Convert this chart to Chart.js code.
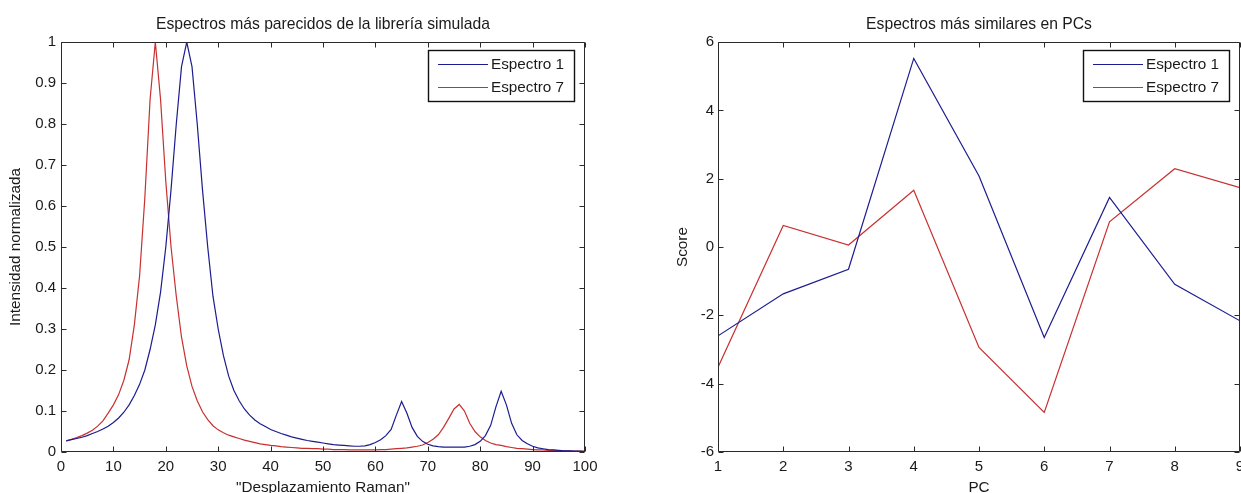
<!DOCTYPE html>
<html>
<head>
<meta charset="utf-8">
<script src="https://cdn.jsdelivr.net/npm/chart.js@4.4.1/dist/chart.umd.min.js"></script>
<style>
  html, body { margin: 0; padding: 0; background: #ffffff; overflow: hidden; width: 1241px; height: 493px; }
  canvas { position: absolute; top: 0; }
  #spectra { left: 0; }
  #scores { left: 640px; }
</style>
</head>
<body>
<canvas id="spectra" width="620" height="500"></canvas>
<canvas id="scores" width="700" height="500"></canvas>
<script>
// Raman shift channels (1..100)
const ramanShift = Array.from({ length: 100 }, (_, i) => i + 1);

// Normalised intensity, Espectro 1
const espectro1 = [
  0.027, 0.030, 0.033, 0.036, 0.040, 0.045, 0.050, 0.056, 0.063, 0.072,
  0.083, 0.097, 0.115, 0.138, 0.165, 0.200, 0.250, 0.310, 0.390, 0.500,
  0.640, 0.800, 0.940, 1.000, 0.940, 0.800, 0.640, 0.500, 0.380, 0.300,
  0.235, 0.185, 0.150, 0.125, 0.105, 0.090, 0.078, 0.069, 0.062, 0.055,
  0.050, 0.045, 0.041, 0.037, 0.034, 0.031, 0.028, 0.026, 0.024, 0.022,
  0.020, 0.018, 0.017, 0.016, 0.015, 0.014, 0.014, 0.015, 0.018, 0.023,
  0.030, 0.040, 0.055, 0.090, 0.123, 0.095, 0.060, 0.038, 0.026, 0.019,
  0.015, 0.013, 0.012, 0.012, 0.012, 0.012, 0.012, 0.014, 0.018, 0.026,
  0.040, 0.065, 0.110, 0.148, 0.115, 0.070, 0.042, 0.028, 0.020, 0.014,
  0.010, 0.008, 0.006, 0.005, 0.004, 0.003, 0.003, 0.002, 0.002, 0.001
];

// Normalised intensity, Espectro 7
const espectro7 = [
  0.027, 0.031, 0.035, 0.040, 0.046, 0.053, 0.063, 0.076, 0.095, 0.115,
  0.140, 0.175, 0.225, 0.310, 0.430, 0.620, 0.860, 1.000, 0.860, 0.660,
  0.500, 0.380, 0.280, 0.210, 0.160, 0.125, 0.098, 0.079, 0.064, 0.054,
  0.047, 0.041, 0.037, 0.033, 0.029, 0.026, 0.023, 0.020, 0.018, 0.016,
  0.015, 0.013, 0.012, 0.011, 0.010, 0.009, 0.009, 0.008, 0.008, 0.007,
  0.007, 0.006, 0.006, 0.006, 0.005, 0.005, 0.005, 0.005, 0.005, 0.005,
  0.006, 0.006, 0.007, 0.008, 0.009, 0.010, 0.012, 0.014, 0.017, 0.023,
  0.031, 0.042, 0.060, 0.082, 0.105, 0.116, 0.100, 0.070, 0.050, 0.037,
  0.028, 0.022, 0.018, 0.016, 0.013, 0.011, 0.009, 0.008, 0.007, 0.006,
  0.005, 0.005, 0.004, 0.004, 0.003, 0.003, 0.003, 0.002, 0.002, 0.002
];

// Principal components and their scores
const pcIndex = [1, 2, 3, 4, 5, 6, 7, 8, 9];
const score1 = [-2.60, -1.37, -0.65, 5.52, 2.08, -2.65, 1.45, -1.09, -2.16];
const score7 = [-3.52, 0.63, 0.06, 1.66, -2.94, -4.84, 0.74, 2.29, 1.74];

// Tick values and labels
const spectraXTicks = [0, 10, 20, 30, 40, 50, 60, 70, 80, 90, 100];
const spectraXLabels = ['0', '10', '20', '30', '40', '50', '60', '70', '80', '90', '100'];
const spectraYTicks = [0, 0.1, 0.2, 0.3, 0.4, 0.5, 0.6, 0.7, 0.8, 0.9, 1];
const spectraYLabels = ['0', '0.1', '0.2', '0.3', '0.4', '0.5', '0.6', '0.7', '0.8', '0.9', '1'];
const scoreXTicks = [1, 2, 3, 4, 5, 6, 7, 8, 9];
const scoreXLabels = ['1', '2', '3', '4', '5', '6', '7', '8', '9'];
const scoreYTicks = [-6, -4, -2, 0, 2, 4, 6];
const scoreYLabels = ['-6', '-4', '-2', '0', '2', '4', '6'];

const FONT = "'Liberation Sans', Arial, Helvetica, sans-serif";
const TEXT = '#1a1a1a';
const AXIS = '#2a2a2a';
const BLUE = '#1c1c90';
const RED = '#c83030';

const toPoints = (xs, ys) => xs.map((x, i) => ({ x: x, y: ys[i] }));

// Boxed axes with inward tick marks on all four sides, plus a boxed legend
const boxedAxes = {
  id: 'boxedAxes',
  afterDatasetsDraw(chart) {
    const { ctx, chartArea: a, scales } = chart;
    const L = Math.round(a.left) + 0.5, R = Math.round(a.right) - 0.5;
    const T = Math.round(a.top) + 0.5, B = Math.round(a.bottom) - 0.5;
    const len = 5;
    ctx.save();
    ctx.strokeStyle = AXIS;
    ctx.lineWidth = 1;
    ctx.beginPath();
    ctx.rect(L, T, R - L, B - T);
    scales.x.ticks.forEach(t => {
      const p = Math.round(scales.x.getPixelForValue(t.value)) + 0.5;
      ctx.moveTo(p, B); ctx.lineTo(p, B - len);
      ctx.moveTo(p, T); ctx.lineTo(p, T + len);
    });
    scales.y.ticks.forEach(t => {
      const p = Math.round(scales.y.getPixelForValue(t.value)) + 0.5;
      ctx.moveTo(L, p); ctx.lineTo(L + len, p);
      ctx.moveTo(R, p); ctx.lineTo(R - len, p);
    });
    ctx.stroke();

    // legend
    const boxW = 146, boxH = 51;
    const bx = Math.round(a.right) - 11 - boxW;
    const by = Math.round(a.top) + 8;
    ctx.fillStyle = '#ffffff';
    ctx.fillRect(bx, by, boxW, boxH);
    ctx.strokeStyle = '#111111';
    ctx.lineWidth = 1.4;
    ctx.strokeRect(bx + 0.5, by + 0.5, boxW, boxH);
    ctx.font = '15.3px ' + FONT;
    ctx.textBaseline = 'middle';
    ctx.textAlign = 'left';
    chart.data.datasets.forEach((ds, i) => {
      const y = by + 14 + i * 23 + 0.5;
      ctx.strokeStyle = ds.borderColor;
      ctx.lineWidth = 1.2;
      ctx.beginPath();
      ctx.moveTo(bx + 10, y);
      ctx.lineTo(bx + 60, y);
      ctx.stroke();
      ctx.fillStyle = TEXT;
      ctx.fillText(ds.label, bx + 63, y + 0.5);
    });
    ctx.restore();
  }
};

function makeChart(canvasId, cfg) {
  const fixTicks = (vals) => (scale) => { scale.ticks = vals.map(v => ({ value: v })); };
  return new Chart(document.getElementById(canvasId), {
    type: 'line',
    data: {
      datasets: [
        { label: 'Espectro 1', data: cfg.series1, borderColor: BLUE, borderWidth: 1.2, pointRadius: 0, tension: 0, fill: false },
        { label: 'Espectro 7', data: cfg.series7, borderColor: RED, borderWidth: 1.2, pointRadius: 0, tension: 0, fill: false }
      ]
    },
    options: {
      responsive: false,
      animation: false,
      devicePixelRatio: 1,
      layout: { padding: { left: 0, right: cfg.rightPad, top: 0, bottom: 0 } },
      plugins: {
        legend: { display: false },
        tooltip: { enabled: false },
        title: {
          display: true,
          text: cfg.title,
          fullSize: false,
          color: TEXT,
          font: { family: FONT, size: 15.7, weight: 'normal', lineHeight: 1.2 },
          padding: { top: 15, bottom: 8.2 }
        }
      },
      scales: {
        x: {
          type: 'linear',
          min: cfg.xMin, max: cfg.xMax,
          afterBuildTicks: fixTicks(cfg.xTicks),
          afterFit: (s) => { s.height = 48; },
          grid: { display: false, drawTicks: false },
          border: { display: false },
          ticks: {
            autoSkip: false, maxRotation: 0, padding: 6, color: TEXT,
            font: { family: FONT, size: 15 },
            callback: (v, i) => cfg.xLabels[i]
          },
          title: {
            display: true, text: cfg.xTitle, color: TEXT,
            font: { family: FONT, size: 15.3, lineHeight: 1.2 },
            padding: { top: 0, bottom: 3 }
          }
        },
        y: {
          type: 'linear',
          min: cfg.yMin, max: cfg.yMax,
          afterBuildTicks: fixTicks(cfg.yTicks),
          afterFit: (s) => { s.width = cfg.yWidth; },
          grid: { display: false, drawTicks: false },
          border: { display: false },
          ticks: {
            autoSkip: false, padding: cfg.yTickPad, color: TEXT,
            font: { family: FONT, size: 15 },
            callback: (v, i) => cfg.yLabels[i]
          },
          title: {
            display: true, text: cfg.yTitle, color: TEXT,
            font: { family: FONT, size: 15.3, lineHeight: 1.2 },
            padding: { top: cfg.yTitlePad, bottom: 0 }
          }
        }
      }
    },
    plugins: [boxedAxes]
  });
}

makeChart('spectra', {
  title: 'Espectros más parecidos de la librería simulada',
  series1: toPoints(ramanShift, espectro1),
  series7: toPoints(ramanShift, espectro7),
  xMin: 0, xMax: 100, xTicks: spectraXTicks, xLabels: spectraXLabels,
  yMin: 0, yMax: 1, yTicks: spectraYTicks, yLabels: spectraYLabels,
  xTitle: '"Desplazamiento Raman"', yTitle: 'Intensidad normalizada',
  yWidth: 61, yTickPad: 5, yTitlePad: 7, rightPad: 35
});

makeChart('scores', {
  title: 'Espectros más similares en PCs',
  series1: toPoints(pcIndex, score1),
  series7: toPoints(pcIndex, score7),
  xMin: 1, xMax: 9, xTicks: scoreXTicks, xLabels: scoreXLabels,
  yMin: -6, yMax: 6, yTicks: scoreYTicks, yLabels: scoreYLabels,
  xTitle: 'PC', yTitle: 'Score',
  yWidth: 78, yTickPad: 4, yTitlePad: 34, rightPad: 100
});
</script>
</body>
</html>
